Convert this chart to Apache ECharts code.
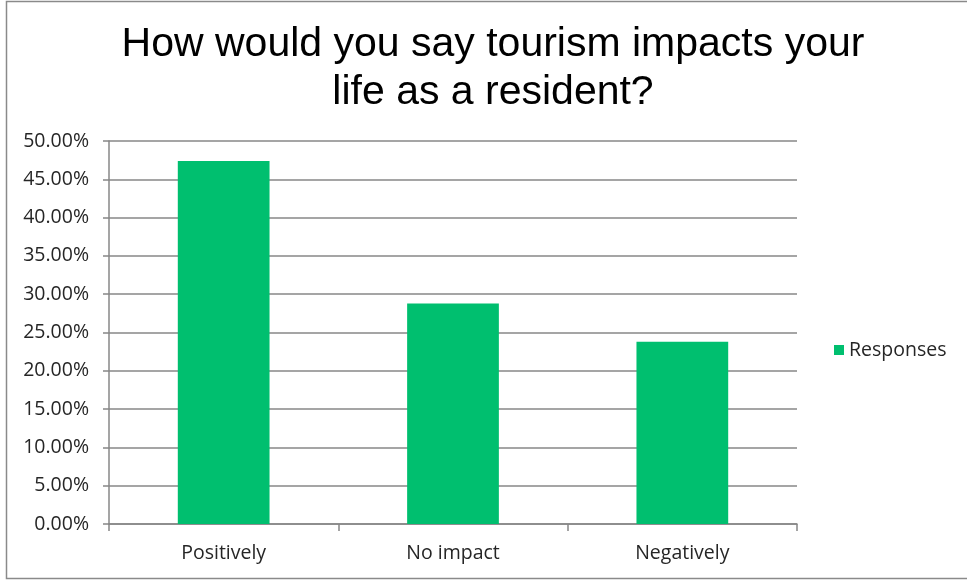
<!DOCTYPE html>
<html>
<head>
<meta charset="utf-8">
<script src="https://cdn.jsdelivr.net/npm/echarts@6/dist/echarts.min.js"></script>
<style>
html,body{margin:0;padding:0;background:#fff;}
#chart{width:967px;height:581px;}
</style>
</head>
<body>
<div id="chart"></div>
<script>
var titleText = 'How would you say tourism impacts your\nlife as a resident?';
var categories = ['Positively', 'No impact', 'Negatively'];
var seriesName = 'Responses';
var responses = [47.4, 28.8, 23.8];
var yMin = 0, yMax = 50, yStep = 5;

var chart = echarts.init(document.getElementById('chart'));
var labelFont = 'Open Sans';
chart.setOption({
  animation: false,
  backgroundColor: '#ffffff',
  title: {
    text: titleText,
    left: 488,
    top: 16,
    textAlign: 'center',
    textStyle: {
      fontFamily: 'Liberation Sans',
      fontSize: 41,
      fontWeight: 'normal',
      color: '#000000',
      lineHeight: 48
    }
  },
  graphic: [{
    type: 'rect',
    shape: {x: 6.5, y: 1.5, width: 1000, height: 577},
    style: {fill: 'none', stroke: '#8a8a8a', lineWidth: 1.5},
    silent: true,
    z: -1
  }],
  legend: {
    data: [seriesName],
    left: 829,
    top: 335,
    icon: 'rect',
    itemWidth: 10,
    itemHeight: 10,
    itemGap: 5,
    textStyle: {fontFamily: labelFont, fontSize: 19.5, color: '#262626'}
  },
  grid: {left: 109, right: 170, top: 141, bottom: 57, containLabel: false},
  xAxis: {
    type: 'category',
    data: categories,
    boundaryGap: true,
    axisLine: {show: true, lineStyle: {color: '#878787', width: 1.5}},
    axisTick: {show: true, length: 7, lineStyle: {color: '#878787', width: 1.5}},
    axisLabel: {fontFamily: labelFont, fontSize: 19.5, color: '#262626', margin: 19}
  },
  yAxis: {
    type: 'value',
    min: yMin,
    max: yMax,
    interval: yStep,
    axisLine: {show: true, lineStyle: {color: '#878787', width: 1.5}},
    axisTick: {show: true, length: 6, lineStyle: {color: '#878787', width: 1.5}},
    splitLine: {show: true, lineStyle: {color: '#878787', width: 1.5}},
    axisLabel: {
      fontFamily: labelFont, fontSize: 19.5, color: '#262626', margin: 20,
      formatter: function (v) { return v.toFixed(2) + '%'; }
    }
  },
  series: [{
    name: seriesName,
    type: 'bar',
    data: responses,
    barWidth: '40%',
    itemStyle: {color: '#00bf6f'}
  }]
});
</script>
</body>
</html>
